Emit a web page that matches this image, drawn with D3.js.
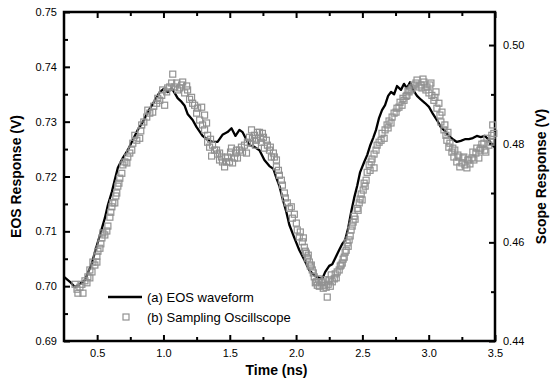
<!DOCTYPE html>
<html>
<head>
<meta charset="utf-8">
<script src="https://cdn.jsdelivr.net/npm/d3@7"></script>
<style>
  html, body { margin: 0; padding: 0; background: #fff; }
  svg { display: block; font-family: "Liberation Sans", Arial, Helvetica, sans-serif; }
  .axis text { font-size: 11px; fill: #000; }
  .axis line { stroke: #000; stroke-width: 2; }
  .title { font-size: 14px; font-weight: bold; }
  .legend text { font-size: 13px; }
</style>
</head>
<body>
<svg id="chart" width="551" height="383"></svg>
<script>
// ── data ─────────────────────────────────────────────
// (a) EOS waveform: [time ns, EOS response V]
const eosData = [
  [0.250,0.7017],[0.295,0.7008],[0.333,0.6998],[0.370,0.7004],[0.408,0.7011],[0.430,0.7024],
  [0.461,0.7042],[0.483,0.7062],[0.521,0.7093],[0.558,0.7124],[0.581,0.7148],[0.611,0.7172],
  [0.633,0.7194],[0.656,0.7216],[0.694,0.7234],[0.731,0.7248],[0.769,0.7267],[0.806,0.7285],
  [0.844,0.7299],[0.882,0.7318],[0.919,0.7332],[0.949,0.7345],[0.972,0.7354],[1.002,0.7360],
  [1.032,0.7354],[1.062,0.7361],[1.085,0.7352],[1.107,0.7343],[1.137,0.7336],[1.160,0.7329],
  [1.182,0.7314],[1.220,0.7303],[1.250,0.7290],[1.295,0.7274],[1.333,0.7267],[1.370,0.7263],
  [1.408,0.7263],[1.445,0.7276],[1.483,0.7281],[1.513,0.7288],[1.543,0.7274],[1.573,0.7285],
  [1.596,0.7281],[1.626,0.7267],[1.648,0.7257],[1.686,0.7254],[1.724,0.7248],[1.761,0.7230],
  [1.799,0.7219],[1.829,0.7214],[1.852,0.7197],[1.874,0.7183],[1.897,0.7161],[1.927,0.7135],
  [1.949,0.7112],[1.987,0.7088],[2.024,0.7066],[2.062,0.7048],[2.100,0.7029],[2.137,0.7020],
  [2.175,0.7015],[2.197,0.7013],[2.220,0.7026],[2.250,0.7037],[2.273,0.7040],[2.295,0.7051],
  [2.325,0.7066],[2.348,0.7077],[2.370,0.7084],[2.393,0.7106],[2.415,0.7135],[2.438,0.7161],
  [2.461,0.7183],[2.483,0.7208],[2.513,0.7226],[2.536,0.7239],[2.558,0.7256],[2.581,0.7270],
  [2.603,0.7285],[2.626,0.7307],[2.648,0.7321],[2.671,0.7330],[2.694,0.7347],[2.716,0.7354],
  [2.739,0.7350],[2.761,0.7365],[2.791,0.7358],[2.814,0.7369],[2.836,0.7361],[2.859,0.7372],
  [2.882,0.7358],[2.912,0.7347],[2.942,0.7340],[2.972,0.7334],[3.002,0.7327],[3.032,0.7314],
  [3.062,0.7303],[3.092,0.7290],[3.122,0.7283],[3.152,0.7274],[3.182,0.7268],[3.212,0.7263],
  [3.242,0.7265],[3.273,0.7268],[3.303,0.7268],[3.333,0.7270],[3.363,0.7274],[3.393,0.7272],
  [3.423,0.7274],[3.453,0.7267],[3.483,0.7256],[3.498,0.7254]
];

// (b) Sampling oscilloscope: [time ns, scope response V]
const scopeData = [
  [0.333,0.4515],[0.348,0.4505],[0.355,0.4497],[0.370,0.4509],[0.385,0.4515],[0.393,0.4497],
  [0.408,0.4522],[0.423,0.4518],[0.430,0.4530],[0.445,0.4528],[0.445,0.4544],[0.461,0.4540],
  [0.468,0.4560],[0.483,0.4554],[0.498,0.4560],[0.498,0.4572],[0.506,0.4582],[0.521,0.4588],
  [0.528,0.4597],[0.536,0.4609],[0.543,0.4619],[0.558,0.4615],[0.573,0.4623],[0.581,0.4633],
  [0.596,0.4651],[0.603,0.4661],[0.611,0.4672],[0.618,0.4680],[0.633,0.4680],[0.641,0.4694],
  [0.648,0.4700],[0.656,0.4714],[0.664,0.4720],[0.671,0.4730],[0.686,0.4740],[0.694,0.4757],
  [0.709,0.4763],[0.724,0.4761],[0.731,0.4773],[0.746,0.4781],
  [0.761,0.4787],[0.769,0.4801],[0.784,0.4817],[0.799,0.4807],[0.821,0.4811],[0.829,0.4826],
  [0.836,0.4838],[0.852,0.4844],[0.874,0.4854],[0.882,0.4868],[0.897,0.4862],[0.919,0.4864],
  [0.927,0.4876],[0.949,0.4882],[0.957,0.4892],[0.972,0.4888],[0.987,0.4898],[0.994,0.4909],
  [1.009,0.4878],[1.024,0.4905],[1.032,0.4913],[1.047,0.4915],[1.062,0.4923],[1.070,0.4941],
  [1.085,0.4915],[1.100,0.4923],[1.107,0.4909],[1.122,0.4913],[1.137,0.4919],[1.145,0.4925],
  [1.160,0.4903],[1.175,0.4917],[1.182,0.4909],[1.197,0.4890],[1.212,0.4894],[1.220,0.4882],
  [1.235,0.4878],[1.250,0.4862],[1.258,0.4872],[1.273,0.4848],[1.288,0.4874],[1.295,0.4838],
  [1.310,0.4858],[1.310,0.4828],[1.325,0.4842],[1.333,0.4817],[1.333,0.4803],[1.348,0.4793],
  [1.355,0.4809],[1.363,0.4775],[1.370,0.4797],[1.385,0.4787],[1.400,0.4787],[1.408,0.4779],
  [1.423,0.4767],[1.423,0.4781],[1.438,0.4773],[1.445,0.4763],[1.461,0.4753],[1.468,0.4771],
  [1.476,0.4763],[1.483,0.4773],[1.498,0.4763],[1.506,0.4783],[1.513,0.4791],[1.521,0.4761],
  [1.536,0.4771],[1.543,0.4781],[1.551,0.4787],[1.558,0.4771],[1.573,0.4787],[1.588,0.4793],
  [1.596,0.4783],[1.611,0.4797],[1.626,0.4781],[1.633,0.4803],[1.648,0.4813],[1.656,0.4801],
  [1.664,0.4828],[1.671,0.4811],[1.686,0.4817],[1.694,0.4797],[1.701,0.4807],[1.709,0.4823],
  [1.724,0.4823],[1.731,0.4811],[1.739,0.4803],[1.746,0.4821],[1.754,0.4813],[1.761,0.4791],
  [1.776,0.4807],[1.784,0.4797],[1.799,0.4787],[1.806,0.4793],[1.814,0.4773],[1.829,0.4781],
  [1.836,0.4773],[1.852,0.4767],[1.852,0.4753],[1.867,0.4746],[1.874,0.4736],[1.889,0.4726],
  [1.897,0.4716],[1.912,0.4700],[1.919,0.4690],
  [1.934,0.4680],[1.949,0.4669],[1.964,0.4672],[1.972,0.4649],[1.987,0.4657],[2.002,0.4639],
  [2.009,0.4625],[2.024,0.4611],[2.032,0.4621],[2.047,0.4601],[2.055,0.4609],[2.062,0.4590],
  [2.070,0.4582],[2.077,0.4578],[2.085,0.4568],[2.092,0.4574],[2.100,0.4560],[2.107,0.4552],
  [2.115,0.4554],[2.122,0.4544],[2.130,0.4538],[2.137,0.4530],[2.145,0.4518],[2.152,0.4520],
  [2.160,0.4513],[2.167,0.4526],[2.175,0.4511],[2.190,0.4518],[2.197,0.4520],[2.205,0.4507],
  [2.212,0.4513],[2.220,0.4524],[2.227,0.4509],[2.235,0.4489],[2.242,0.4515],[2.250,0.4524],
  [2.258,0.4511],[2.265,0.4534],[2.273,0.4520],[2.288,0.4526],[2.295,0.4536],[2.303,0.4528],
  [2.310,0.4540],[2.325,0.4544],[2.333,0.4552],[2.340,0.4554],[2.348,0.4558],[2.355,0.4566],
  [2.363,0.4570],[2.370,0.4580],[2.378,0.4584],[2.385,0.4599],[2.393,0.4592],[2.400,0.4605],
  [2.408,0.4613],[2.415,0.4625],[2.423,0.4633],[2.430,0.4641],[2.438,0.4653],[2.445,0.4647],
  [2.461,0.4669],[2.468,0.4665],[2.476,0.4680],[2.483,0.4688],[2.491,0.4698],[2.498,0.4686],
  [2.506,0.4706],[2.513,0.4720],[2.521,0.4714],[2.528,0.4726],[2.536,0.4742],[2.551,0.4757],
  [2.558,0.4746],[2.566,0.4763],[2.573,0.4769],[2.588,0.4779],[2.588,0.4751],[2.603,0.4787],
  [2.611,0.4797],[2.626,0.4803],[2.641,0.4807],[2.648,0.4821],[2.664,0.4811],[2.671,0.4828],
  [2.686,0.4838],[2.694,0.4832],[2.701,0.4846],[2.716,0.4842],[2.724,0.4854],[2.739,0.4862],
  [2.754,0.4864],[2.761,0.4872],[2.776,0.4874],[2.784,0.4884],[2.799,0.4878],[2.806,0.4892],
  [2.814,0.4888],[2.829,0.4896],[2.836,0.4898],[2.844,0.4907],[2.852,0.4905],[2.867,0.4909],
  [2.874,0.4913],[2.889,0.4919],[2.904,0.4923],[2.912,0.4929],[2.927,0.4915],[2.942,0.4919],
  [2.949,0.4913],[2.957,0.4931],[2.964,0.4925],[2.979,0.4909],[2.987,0.4915],[3.002,0.4903],
  [3.009,0.4919],[3.017,0.4923],[3.024,0.4898],[3.039,0.4888],[3.047,0.4894],[3.055,0.4905],
  [3.062,0.4872],[3.077,0.4882],[3.085,0.4858],[3.092,0.4844],[3.100,0.4864],[3.115,0.4828],
  [3.122,0.4838],[3.130,0.4817],[3.137,0.4807],[3.145,0.4823],[3.152,0.4793],[3.160,0.4801],
  [3.175,0.4783],[3.182,0.4791],[3.190,0.4773],[3.197,0.4787],[3.212,0.4763],[3.220,0.4777],
  [3.227,0.4773],[3.235,0.4753],[3.250,0.4761],[3.258,0.4771],[3.265,0.4773],[3.273,0.4757],
  [3.288,0.4751],[3.295,0.4767],[3.303,0.4767],[3.311,0.4759],[3.326,0.4771],[3.333,0.4783],
  [3.341,0.4767],[3.356,0.4781],[3.363,0.4791],[3.378,0.4771],[3.386,0.4787],[3.393,0.4791],
  [3.401,0.4799],[3.416,0.4801],[3.423,0.4787],[3.431,0.4783],[3.439,0.4811],[3.454,0.4797],
  [3.469,0.4803],[3.476,0.4817],[3.483,0.4838],[3.491,0.4821]
];

const xTicks = [0.5, 1.0, 1.5, 2.0, 2.5, 3.0, 3.5];
const xMinor = [0.75, 1.25, 1.75, 2.25, 2.75, 3.25];
const yLeftTicks = [0.69, 0.70, 0.71, 0.72, 0.73, 0.74, 0.75];
const yLeftMinor = [0.695, 0.705, 0.715, 0.725, 0.735, 0.745];
const yRightTicks = [0.44, 0.46, 0.48, 0.50];
const yRightMinor = [0.45, 0.47, 0.49];
const legendLabels = ['(a) EOS waveform', '(b) Sampling Oscillscope'];

// ── layout ───────────────────────────────────────────
const svg = d3.select('#chart');
const plot = { left: 64, right: 495, top: 12, bottom: 341 };

const x = d3.scaleLinear().domain([0.25, 3.5]).range([plot.left, plot.right]);
const yL = d3.scaleLinear().domain([0.69, 0.75]).range([plot.bottom, plot.top]);
const yR = d3.scaleLinear().domain([0.44, 0.5067]).range([plot.bottom, plot.top]);

function axisGroup(axis, tx, ty) {
  const g = svg.append('g').attr('class', 'axis')
    .attr('transform', `translate(${tx},${ty})`)
    .call(axis);
  g.select('.domain').remove();
  return g;
}

// bottom
axisGroup(d3.axisBottom(x).tickValues(xTicks).tickSize(-6).tickPadding(8)
  .tickFormat(d3.format('.1f')), 0, plot.bottom);
axisGroup(d3.axisBottom(x).tickValues(xMinor).tickSize(-4).tickFormat(''), 0, plot.bottom);
// top (mirror ticks)
axisGroup(d3.axisTop(x).tickValues(xTicks).tickSize(-6).tickFormat(''), 0, plot.top);
axisGroup(d3.axisTop(x).tickValues(xMinor).tickSize(-4).tickFormat(''), 0, plot.top);
// left
axisGroup(d3.axisLeft(yL).tickValues(yLeftTicks).tickSize(-6).tickPadding(7)
  .tickFormat(d3.format('.2f')), plot.left, 0);
axisGroup(d3.axisLeft(yL).tickValues(yLeftMinor).tickSize(-4).tickFormat(''), plot.left, 0);
// right
axisGroup(d3.axisRight(yR).tickValues(yRightTicks).tickSize(-6).tickPadding(8)
  .tickFormat(d3.format('.2f')), plot.right, 0);
axisGroup(d3.axisRight(yR).tickValues(yRightMinor).tickSize(-4).tickFormat(''), plot.right, 0);

// frame
svg.append('rect')
  .attr('x', plot.left).attr('y', plot.top)
  .attr('width', plot.right - plot.left).attr('height', plot.bottom - plot.top)
  .attr('fill', 'none').attr('stroke', '#000').attr('stroke-width', 2.5);

// series
const line = d3.line().x(d => x(d[0])).y(d => yL(d[1]));
svg.append('path')
  .datum(eosData)
  .attr('d', line)
  .attr('fill', 'none')
  .attr('stroke', '#000')
  .attr('stroke-width', 2.3)
  .attr('stroke-linejoin', 'round');

const sq = 6;
svg.append('g').selectAll('rect')
  .data(scopeData).enter().append('rect')
    .attr('x', d => x(d[0]) - sq / 2)
    .attr('y', d => yR(d[1]) - sq / 2)
    .attr('width', sq).attr('height', sq)
    .attr('fill', 'none')
    .attr('stroke', '#929292')
    .attr('stroke-width', 1.2);

// titles
svg.append('text').attr('class', 'title')
  .attr('x', (plot.left + plot.right) / 2 - 3).attr('y', 375)
  .attr('text-anchor', 'middle').text('Time (ns)');
svg.append('text').attr('class', 'title')
  .attr('transform', `translate(21,${(plot.top + plot.bottom) / 2}) rotate(-90)`)
  .attr('text-anchor', 'middle').text('EOS Response (V)');
svg.append('text').attr('class', 'title')
  .attr('transform', `translate(546,${(plot.top + plot.bottom) / 2}) rotate(-90)`)
  .attr('text-anchor', 'middle').text('Scope Response (V)');

// legend
const lg = svg.append('g').attr('class', 'legend');
lg.append('line')
  .attr('x1', 108).attr('x2', 142).attr('y1', 297).attr('y2', 297)
  .attr('stroke', '#000').attr('stroke-width', 2.3);
lg.append('rect')
  .attr('x', 126 - sq / 2).attr('y', 317 - sq / 2)
  .attr('width', sq).attr('height', sq)
  .attr('fill', 'none').attr('stroke', '#929292').attr('stroke-width', 1.2);
lg.selectAll('text.lbl')
  .data(legendLabels).enter().append('text')
    .attr('class', 'lbl')
    .attr('x', 147)
    .attr('y', (d, i) => 301.5 + i * 20)
    .text(d => d);
</script>
</body>
</html>
